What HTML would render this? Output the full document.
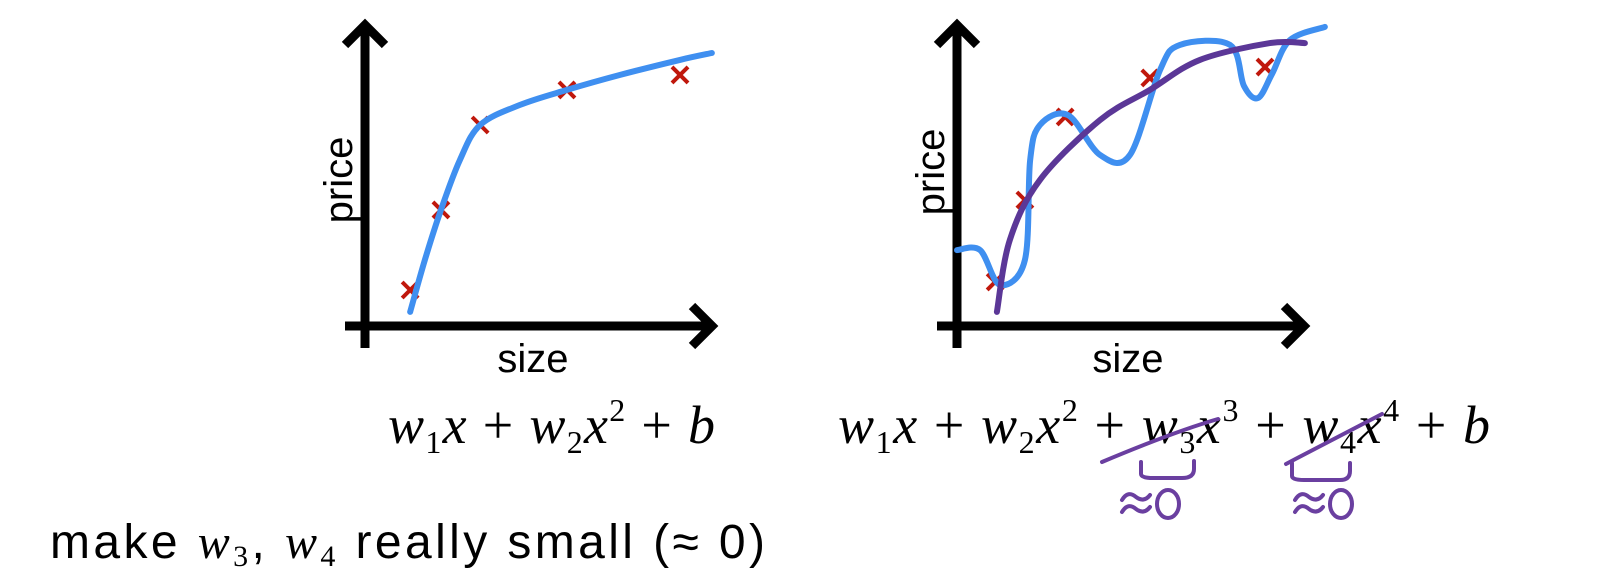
<!DOCTYPE html>
<html><head><meta charset="utf-8"><style>
html,body{margin:0;padding:0;background:#fff;width:1603px;height:586px;overflow:hidden}
svg{display:block}
.lbl{font-family:"Liberation Sans",sans-serif;font-size:40px;fill:#000}
.math{font-family:"Liberation Serif",serif;font-style:italic;font-size:54px;fill:#000}
.n{font-style:normal}
</style></head><body>
<svg id="c" width="1603" height="586" viewBox="0 0 1603 586" xmlns="http://www.w3.org/2000/svg">
<g id="axes" fill="none" stroke="#000" stroke-width="9" stroke-linecap="butt">
 <g><path d="M365 348 V28"/><path d="M345 45 L365 25 L385 45"/></g>
 <g><path d="M345 326 H712"/><path d="M692 306 L712 326 L692 346"/></g>
 <g><path d="M957 348 V28"/><path d="M937 45 L957 25 L977 45"/></g>
 <g><path d="M937 326 H1304"/><path d="M1284 306 L1304 326 L1284 346"/></g>
</g>
<text class="lbl" transform="translate(352,180) rotate(-90)" text-anchor="middle">price</text>
<text class="lbl" x="533" y="372" text-anchor="middle">size</text>
<text class="lbl" transform="translate(944,172) rotate(-90)" text-anchor="middle">price</text>
<text class="lbl" x="1128" y="372" text-anchor="middle">size</text>
<g id="plots"></g>
<text x="388" y="443" class="math" textLength="327" lengthAdjust="spacing">w<tspan class="n" font-size="32" dy="10">1</tspan><tspan dy="-10">x</tspan><tspan class="n"> + </tspan>w<tspan class="n" font-size="32" dy="10">2</tspan><tspan dy="-10">x</tspan><tspan class="n" font-size="32" dy="-22">2</tspan><tspan class="n" dy="22"> + </tspan>b</text>
<text x="838" y="443" class="math" textLength="652" lengthAdjust="spacing">w<tspan class="n" font-size="32" dy="10">1</tspan><tspan dy="-10">x</tspan><tspan class="n"> + </tspan>w<tspan class="n" font-size="32" dy="10">2</tspan><tspan dy="-10">x</tspan><tspan class="n" font-size="32" dy="-22">2</tspan><tspan class="n" dy="22"> + </tspan>w<tspan class="n" font-size="32" dy="10">3</tspan><tspan dy="-10">x</tspan><tspan class="n" font-size="32" dy="-22">3</tspan><tspan class="n" dy="22"> + </tspan>w<tspan class="n" font-size="32" dy="10">4</tspan><tspan dy="-10">x</tspan><tspan class="n" font-size="32" dy="-22">4</tspan><tspan class="n" dy="22"> + </tspan>b</text>
<g fill="none" stroke="#6a3fa0" stroke-width="4" stroke-linecap="round">
 <path d="M1102 462 C1140 446 1180 430 1218 419"/>
 <path d="M1141 462 V474 Q1141 478 1153 478 H1182 Q1194 478 1194 469 V461"/>
 <path d="M1286 464 C1320 446 1355 428 1382 414"/>
 <path d="M1292 463 V476 Q1292 480 1304 480 H1340 Q1350 480 1350 471 V463"/>
 <path d="M1122 500 Q1128 490 1136 497 Q1144 503 1150 495"/>
 <path d="M1122 512 Q1128 502 1136 509 Q1144 515 1150 507"/>
 <ellipse cx="1168" cy="504" rx="11" ry="14"/>
 <path d="M1295 500 Q1301 490 1309 497 Q1317 503 1323 495"/>
 <path d="M1295 512 Q1301 502 1309 509 Q1317 515 1323 507"/>
 <ellipse cx="1341" cy="504" rx="11" ry="14"/>
</g>
<text x="50" y="558" font-family="Liberation Sans,sans-serif" font-size="48" fill="#000" textLength="715" lengthAdjust="spacing">make <tspan font-family="Liberation Serif,serif" font-style="italic">w</tspan><tspan font-family="Liberation Serif,serif" font-size="30" dy="8">3</tspan><tspan dy="-8">, </tspan><tspan font-family="Liberation Serif,serif" font-style="italic">w</tspan><tspan font-family="Liberation Serif,serif" font-size="30" dy="8">4</tspan><tspan dy="-8"> really small (≈ 0)</tspan></text>
</svg>
<script>
const leftPointsX=[12.9,21.7,32.9,57.7,90];
const leftPointsY=[12,38.7,67,78.7,83.7];
const leftFitX=[12.9,17.1,21.7,27.1,32.9,44.3,57.7,72.9,90,99.1];
const leftFitY=[4.7,22,38.7,55.3,67,73.7,78.7,83.7,88.7,91];
const rightPointsX=[10.9,19.4,30.9,55.1,88];
const rightPointsY=[14.7,42,69.7,82.7,86.3];
const rightOverfitX=[0,6.6,12.3,19.4,20.9,23.7,31.7,40.9,49.4,58,63.7,78,82,86,90,95.1,105.1];
const rightOverfitY=[25.3,25.3,13.7,22,55.3,67,70.3,57,57,85.3,93.7,93.7,80,76,84,95.3,99.7];
const rightRegX=[11.4,15.1,23.7,40.9,55.1,69.4,89.4,99.4];
const rightRegY=[4.7,28.7,48.7,68.7,78.7,88.7,94.3,94.3];
const NS='http://www.w3.org/2000/svg';
const g=document.getElementById('plots');
const yS=v=>326-v*3;
const xL=v=>365+v*3.5, xR=v=>957+v*3.5;
function smooth(xs,ys,fx){
 const p=xs.map((x,i)=>[fx(x),yS(ys[i])]);
 let d='M'+p[0][0]+' '+p[0][1];
 for(let i=0;i<p.length-1;i++){
  const p0=p[Math.max(i-1,0)],p1=p[i],p2=p[i+1],p3=p[Math.min(i+2,p.length-1)];
  const c1=[p1[0]+(p2[0]-p0[0])/6,p1[1]+(p2[1]-p0[1])/6];
  const c2=[p2[0]-(p3[0]-p1[0])/6,p2[1]-(p3[1]-p1[1])/6];
  d+=` C${c1[0]} ${c1[1]} ${c2[0]} ${c2[1]} ${p2[0]} ${p2[1]}`;
 }
 return d;
}
function line(xs,ys,fx,color,w,name){
 const el=document.createElementNS(NS,'path');
 el.setAttribute('d',smooth(xs,ys,fx));
 el.setAttribute('fill','none');el.setAttribute('stroke',color);
 el.setAttribute('stroke-width',w);el.setAttribute('stroke-linecap','round');
 
 
 g.appendChild(el);
}
function pts(xs,ys,fx,name){
 xs.forEach((x,i)=>{
  const cx=fx(x),cy=yS(ys[i]);
  const el=document.createElementNS(NS,'path');
  el.setAttribute('d',`M${cx-8} ${cy-8} L${cx+8} ${cy+8} M${cx+8} ${cy-8} L${cx-8} ${cy+8}`);
  el.setAttribute('stroke','#c0180c');el.setAttribute('stroke-width','4');
  
  
  g.appendChild(el);
 });
}
pts(leftPointsX,leftPointsY,xL,'left-data-point');
line(leftFitX,leftFitY,xL,'#3f8ff0',6,'left-quadratic-fit');
pts(rightPointsX,rightPointsY,xR,'right-data-point');
line(rightOverfitX,rightOverfitY,xR,'#3f8ff0',6,'right-overfit-curve');
line(rightRegX,rightRegY,xR,'#5b3797',6,'right-regularized-curve');
</script>
</body></html>
